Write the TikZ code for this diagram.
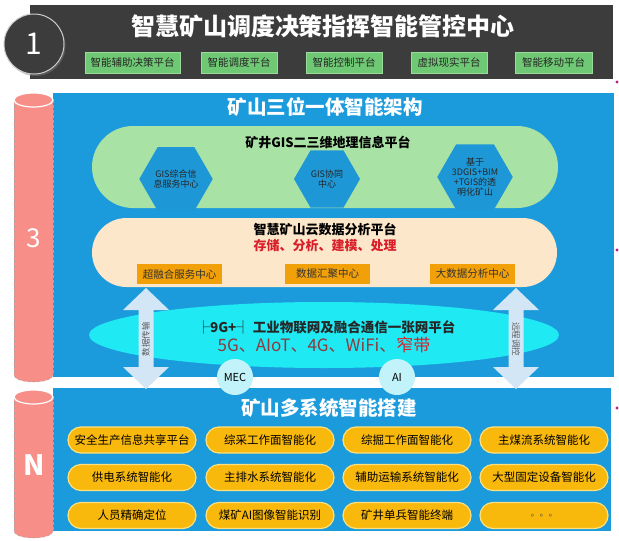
\documentclass[tikz,border=0pt]{standalone}
\usepackage{fontspec}
\setmainfont{Noto Sans CJK SC}
\usetikzlibrary{shapes.geometric,shapes.misc,shadows}
\definecolor{darkbar}{HTML}{3C3C3C}
\definecolor{gbox}{HTML}{6FC873}
\definecolor{gboxb}{HTML}{9ADB9C}
\definecolor{secblue}{HTML}{1C9BDC}
\definecolor{hexblue}{HTML}{1E97D6}
\definecolor{lgreen}{HTML}{A9E2A5}
\definecolor{beige}{HTML}{FDE7CB}
\definecolor{obox}{HTML}{F2A007}
\definecolor{cyanell}{HTML}{1FEAF4}
\definecolor{arrowc}{HTML}{D3E6F6}
\definecolor{bubble}{HTML}{C3F3FA}
\definecolor{yel}{HTML}{F8B80C}
\definecolor{yelb}{HTML}{FDE07E}
\definecolor{cylpink}{HTML}{F78F88}
\definecolor{cylline}{HTML}{B0A0A0}
\definecolor{redtxt}{HTML}{D9202A}
\definecolor{dredtxt}{HTML}{8E3A3E}
\definecolor{pinkdot}{HTML}{C2188A}
\newcommand\cylshape[2]{%
  \filldraw[fill=cylpink, draw=cylline, densely dashed, line width=0.5pt] (33.5,#2) ellipse [x radius=19.5, y radius=7];
  \fill[cylpink] (14,#1) rectangle (53,#2);
  \draw[cylline, densely dashed, line width=0.5pt] (14,#1) -- (14,#2) (53,#1) -- (53,#2);
  \filldraw[fill=cylpink, draw=white, line width=1.2pt] (33.5,#1) ellipse [x radius=19.5, y radius=7];
}
\newcommand\dblarrow[1]{% #1 = centre x
  \fill[arrowc] (#1,288) -- (#1+23,310) -- (#1+7.5,310) -- (#1+7.5,367) -- (#1+23,367)
    -- (#1,389) -- (#1-23,367) -- (#1-7.5,367) -- (#1-7.5,310) -- (#1-23,310) -- cycle;
}
\begin{document}
\begin{tikzpicture}[x=1pt,y=-1pt,
  greenbox/.style={fill=gbox, draw=gboxb, line width=0.6pt, minimum height=21pt, inner sep=1pt,
    font=\fontsize{10.5}{12}\selectfont, text=black!85},
  hexbox/.style={regular polygon, regular polygon sides=6, minimum size=66pt, inner sep=0pt,
    fill=hexblue, align=center, font=\fontsize{9}{10}\selectfont, text=black!85},
  orangebox/.style={fill=obox, minimum width=85pt, minimum height=20pt, inner sep=1pt,
    font=\fontsize{10.5}{12}\selectfont, text=black!80},
  yelbox/.style={rounded rectangle, fill=yel, draw=yelb, line width=1.2pt, minimum width=130pt,
    minimum height=26pt, inner sep=1pt, font=\fontsize{11.5}{13}\selectfont, text=black},
  bubblenode/.style={circle, fill=bubble, minimum size=36pt, inner sep=0pt,
    font=\fontsize{11}{12}\selectfont, text=black},
  arrowtext/.style={font=\fontsize{8.5}{9}\selectfont, text=black!65, inner sep=0pt},
  sectitle/.style={font=\fontsize{19.5}{21}\selectfont\bfseries, text=white},
]
\useasboundingbox (0,0) rectangle (619,541);
\fill[white] (0,0) rectangle (619,541);

% ===== top bar =====
\fill[darkbar] (30,5) rectangle (613,79);
\node[circle, minimum size=60pt, fill=darkbar, draw=white!80!black, line width=1pt,
  drop shadow={shadow xshift=1.5pt, shadow yshift=-2pt, opacity=0.45},
  font=\fontsize{30}{32}\selectfont, text=white] (one) at (34,44) {1};
\node[font=\fontsize{24}{26}\selectfont\bfseries, text=white] (toptitle) at (323,26) {智慧矿山调度决策指挥智能管控中心};
\node[greenbox, minimum width=95pt] (g1) at (132.5,62.5) {智能辅助决策平台};
\node[greenbox, minimum width=76pt] (g2) at (239,62.5) {智能调度平台};
\node[greenbox, minimum width=76pt] (g3) at (344,62.5) {智能控制平台};
\node[greenbox, minimum width=76pt] (g4) at (449,62.5) {虚拟现实平台};
\node[greenbox, minimum width=77pt] (g5) at (553.5,62.5) {智能移动平台};

% ===== section backgrounds =====
\fill[secblue] (53,93) rectangle (614,377);
\fill[secblue] (53,388) rectangle (611,531);
\cylshape{100}{375}
\cylshape{397}{531}
\node[font=\fontsize{26}{28}\selectfont, text=white] (three) at (34,238) {3};
\node[font=\fontsize{28}{30}\selectfont\bfseries, text=white] (enn) at (34,465) {N};

% ===== section 3 =====
\node[sectitle] (sec3) at (325,107) {矿山三位一体智能架构};
\node[rounded rectangle, fill=lgreen, minimum width=466pt, minimum height=82pt, inner sep=0pt] (gis) at (325,167) {};
\node[font=\fontsize{13}{14}\selectfont\bfseries, text=black] (gistitle) at (328,142) {矿井GIS二三维地理信息平台};
\node[hexbox] (h1) at (176,179) {GIS综合信\\息服务中心};
\node[hexbox] (h2) at (327,179) {GIS协同\\中心};
\node[hexbox] (h3) at (475,177) {基于\\3DGIS+BIM\\+TGIS的透\\明化矿山};

\node[rounded rectangle, fill=beige, minimum width=465pt, minimum height=69pt, inner sep=0pt] (cloud) at (324.5,252.5) {};
\node[font=\fontsize{13}{14}\selectfont\bfseries, text=black] (cloudtitle) at (325,229) {智慧矿山云数据分析平台};
\node[font=\fontsize{13}{14}\selectfont\bfseries, text=redtxt] (cloudsub) at (325,246) {存储、分析、建模、处理};
\node[orangebox] (o1) at (179.5,274) {超融合服务中心};
\node[orangebox] (o2) at (327.5,274) {数据汇聚中心};
\node[orangebox] (o3) at (472.5,274) {大数据分析中心};

\node[ellipse, fill=cyanell, minimum width=470pt, minimum height=66pt, inner sep=0pt] (net) at (324,335) {};
\node[font=\fontsize{13.5}{15}\selectfont\bfseries, text=black!85] (nettitle) at (326,327) {├9G+┤ 工业物联网及融合通信一张网平台};
\node[font=\fontsize{17}{18}\selectfont, text=dredtxt] (netsub) at (324,345) {5G、AIoT、4G、WiFi、\textcolor{redtxt}{窄带}};

% ===== section N =====
\node[sectitle] (secn) at (329,408) {矿山多系统智能搭建};
\node[yelbox] (y11) at (132,440) {安全生产信息共享平台};
\node[yelbox] (y12) at (270,440) {综采工作面智能化};
\node[yelbox] (y13) at (407,440) {综掘工作面智能化};
\node[yelbox] (y14) at (544,440) {主煤流系统智能化};
\node[yelbox] (y21) at (132,477.5) {供电系统智能化};
\node[yelbox] (y22) at (270,477.5) {主排水系统智能化};
\node[yelbox] (y23) at (407,477.5) {辅助运输系统智能化};
\node[yelbox] (y24) at (544,477.5) {大型固定设备智能化};
\node[yelbox] (y31) at (132,515.5) {人员精确定位};
\node[yelbox] (y32) at (270,515.5) {煤矿AI图像智能识别};
\node[yelbox] (y33) at (407,515.5) {矿井单兵智能终端};
\node[yelbox, font=\fontsize{9}{10}\selectfont, text=black!70] (y34) at (544,515.5) {。。。};

% ===== arrows and bubbles =====
\dblarrow{146}
\dblarrow{516}
\node[arrowtext, rotate=90] (datatx) at (146,339) {数据传输};
\node[arrowtext, rotate=-90] (remote) at (516,339) {远程调控};
\node[bubblenode] (mec) at (235,377) {MEC};
\node[bubblenode] (ai) at (397,377) {AI};

% ===== side dots =====
\fill[pinkdot] (617,82) circle [radius=1.6];
\fill[pinkdot] (617,250) circle [radius=1.6];
\fill[pinkdot] (617,408) circle [radius=1.6];
\end{tikzpicture}
\end{document}
